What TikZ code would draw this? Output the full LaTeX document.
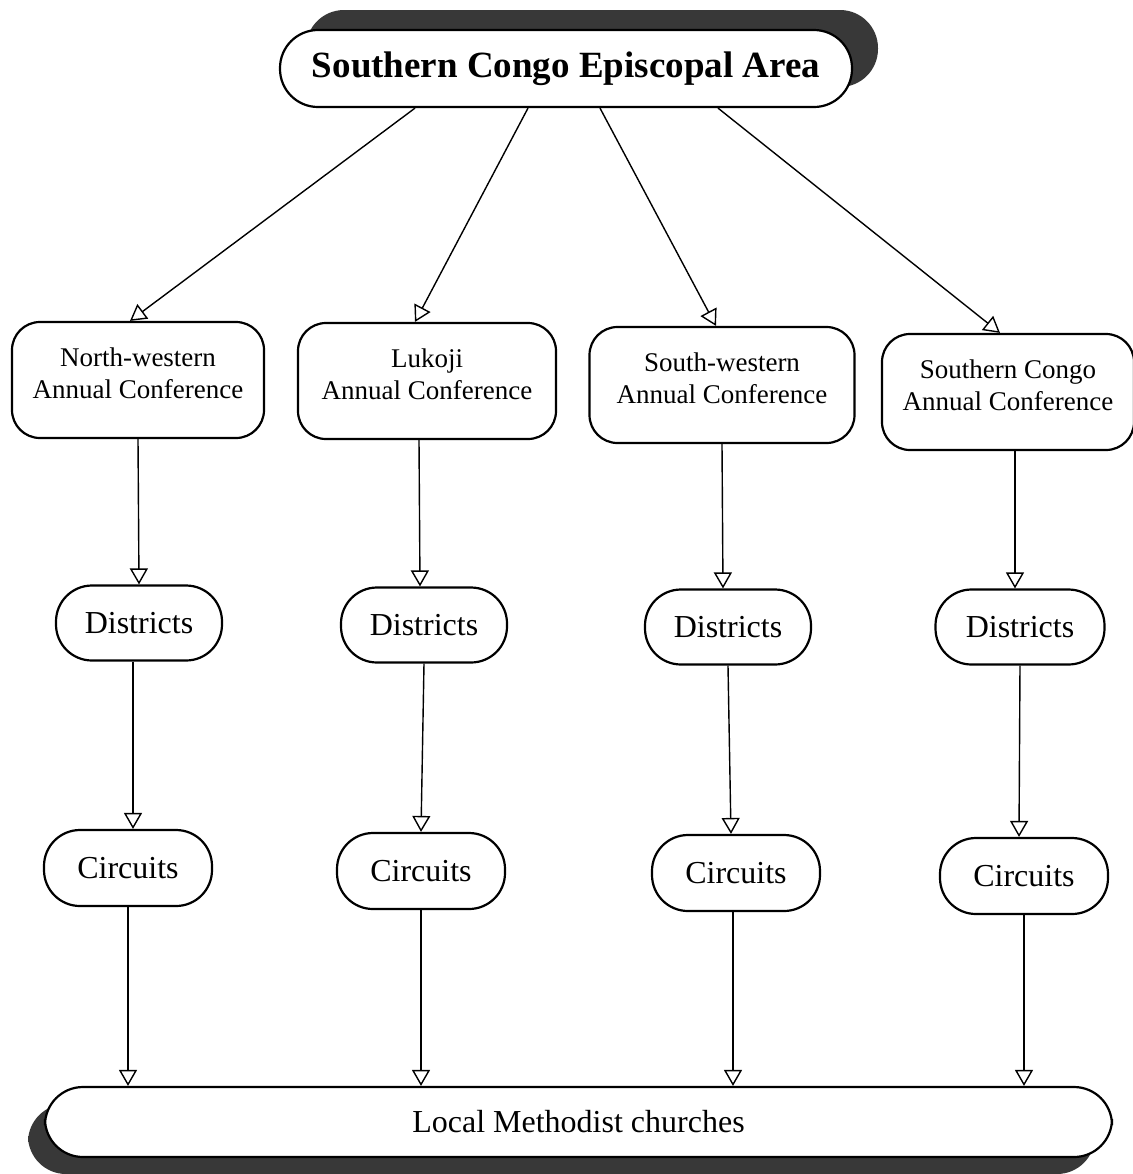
\documentclass[tikz,border=0pt]{standalone}
\usepackage{fontspec}
\setmainfont{Liberation Serif}
\usetikzlibrary{positioning, arrows.meta, shadows}

\begin{document}
\begin{tikzpicture}[
    x=0.5pt, y=-0.5pt,
    area/.style={
        draw=black, line width=1.1pt, fill=white,
        rounded corners=19pt,
        minimum height=38.5pt
    },
    conf/.style={
        draw=black, line width=1.1pt, fill=white,
        rounded corners=14pt,
        align=center,
        minimum width=126pt, minimum height=58pt,
        font=\fontsize{13.5}{16}\selectfont
    },
    unit/.style={
        draw=black, line width=1.1pt, fill=white,
        rounded corners=18pt,
        minimum width=83pt, minimum height=37.5pt,
        font=\fontsize{16}{19}\selectfont
    },
    link/.style={-{Triangle[open, length=8pt, width=9pt]}, line width=0.7pt}
]
\useasboundingbox (0,0) rectangle (1133,1174);

% Episcopal area
\node[area, minimum width=286pt,
    drop shadow={shadow xshift=13pt, shadow yshift=10pt, fill=black!78, opacity=1},
    font=\fontsize{18.5}{22}\selectfont\bfseries]
    (area) at (566,68.5) {Southern Congo Episcopal Area};

% Annual conferences
\node[conf] (conf1) at (138,380) {North-western\\Annual Conference\\[-9pt]};
\node[conf, minimum width=129pt] (conf2) at (427,381) {Lukoji\\Annual Conference\\[-9pt]};
\node[conf, minimum width=132.5pt] (conf3) at (722,385) {South-western\\Annual Conference\\[-9pt]};
\node[conf] (conf4) at (1008,392) {Southern Congo\\Annual Conference\\[-9pt]};

% Districts
\node[unit] (dist1) at (139,623) {Districts};
\node[unit] (dist2) at (424,625) {Districts};
\node[unit] (dist3) at (728,627) {Districts};
\node[unit, minimum width=84.5pt] (dist4) at (1020,627) {Districts};

% Circuits
\node[unit, minimum width=84pt, minimum height=38pt] (circ1) at (128,868) {Circuits};
\node[unit, minimum width=84pt, minimum height=38pt] (circ2) at (421,871) {Circuits};
\node[unit, minimum width=84pt, minimum height=38pt] (circ3) at (736,873) {Circuits};
\node[unit, minimum width=84pt, minimum height=38pt] (circ4) at (1024,876) {Circuits};

% Local churches
\node[area, minimum width=533.5pt, minimum height=35pt,
    drop shadow={shadow xshift=-8.5pt, shadow yshift=-8.5pt, fill=black!78, opacity=1},
    font=\fontsize{16}{19}\selectfont]
    (local) at (578.5,1122) {Local Methodist churches};

% Area to conferences
\draw[link] ([xshift=-75.5pt]area.south) -- ([xshift=-4pt]conf1.north);
\draw[link] ([xshift=-19pt]area.south) -- ([xshift=-6pt]conf2.north);
\draw[link] ([xshift=17pt]area.south) -- ([xshift=-3pt]conf3.north);
\draw[link] ([xshift=76pt]area.south) -- ([xshift=-4pt]conf4.north);

% Conferences to districts
\draw[link] (conf1.south) -- (dist1.north);
\draw[link] ([xshift=-4pt]conf2.south) -- ([xshift=-2pt]dist2.north);
\draw[link] (conf3.south) -- ([xshift=-2.5pt]dist3.north);
\draw[link] ([xshift=3.5pt]conf4.south) -- ([xshift=-2.5pt]dist4.north);

% Districts to circuits
\draw[link] ([xshift=-3pt]dist1.south) -- ([xshift=2.5pt]circ1.north);
\draw[link] (dist2.south) -- (circ2.north);
\draw[link] (dist3.south) -- ([xshift=-2.5pt]circ3.north);
\draw[link] (dist4.south) -- ([xshift=-2.5pt]circ4.north);

% Circuits to local churches
\draw[link] (circ1.south) -- (circ1.south |- local.north);
\draw[link] (circ2.south) -- (circ2.south |- local.north);
\draw[link] ([xshift=-1.5pt]circ3.south) -- ([xshift=-1.5pt]circ3.south |- local.north);
\draw[link] (circ4.south) -- (circ4.south |- local.north);

\end{tikzpicture}
\end{document}
